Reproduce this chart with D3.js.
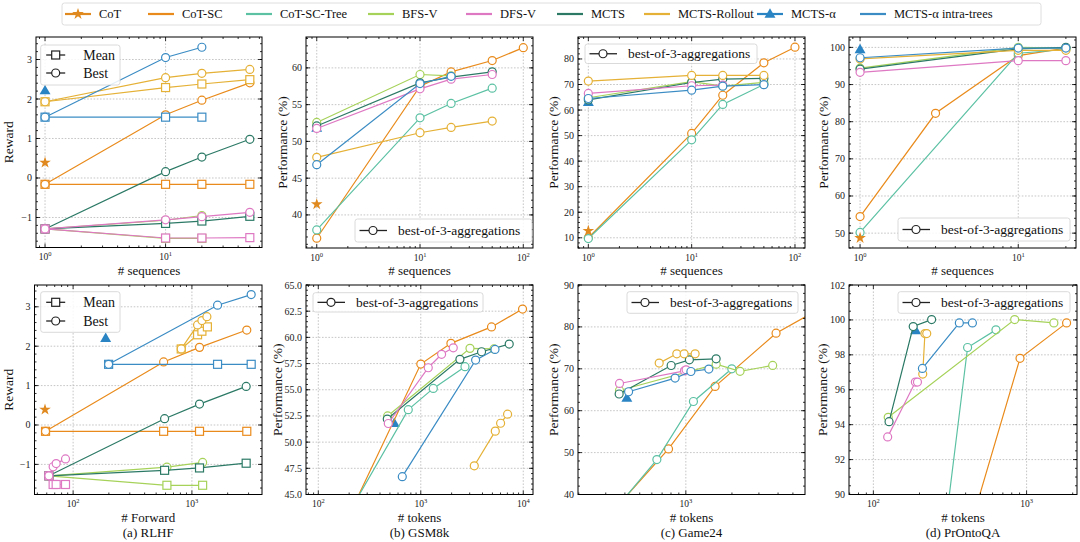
<!DOCTYPE html>
<html><head><meta charset="utf-8">
<script src="https://cdn.jsdelivr.net/npm/d3@7"></script>
<style>body{margin:0;background:#fff}</style>
</head><body>
<script>
// ---------------- data ----------------
const methods = ["CoT","CoT-SC","CoT-SC-Tree","BFS-V","DFS-V","MCTS","MCTS-Rollout","MCTS-α","MCTS-α intra-trees"];
const methodColors = ["#e0891e","#e98b1c","#5cc1a3","#a6d25a","#de78c3","#2c7a66","#e5b136","#2a84c4","#3b8cc4"];

// (a) RLHF, reward vs # sequences
const rlhfSeqCoT = [[1,0.39]];
const rlhfSeqCoTSCBest = [[1,-0.16],[10,1.60],[20,1.97],[50,2.41]];
const rlhfSeqCoTSCMean = [[1,-0.16],[10,-0.16],[20,-0.16],[50,-0.16]];
const rlhfSeqBFSBest = [[1,-1.29],[10,-1.07],[20,-0.95]];
const rlhfSeqBFSMean = [[1,-1.29],[10,-1.53],[20,-1.53]];
const rlhfSeqDFSBest = [[1,-1.29],[10,-1.06],[20,-0.98],[50,-0.87]];
const rlhfSeqDFSMean = [[1,-1.29],[10,-1.52],[20,-1.52],[50,-1.51]];
const rlhfSeqMCTSBest = [[1,-1.29],[10,0.16],[20,0.53],[50,0.98]];
const rlhfSeqMCTSMean = [[1,-1.29],[10,-1.15],[20,-1.09],[50,-0.97]];
const rlhfSeqRollBest = [[1,1.93],[10,2.54],[20,2.65],[50,2.75]];
const rlhfSeqRollMean = [[1,1.93],[10,2.29],[20,2.38],[50,2.49]];
const rlhfSeqAlpha = [[1,2.21]];
const rlhfSeqIntraBest = [[1,1.54],[10,3.05],[20,3.31]];
const rlhfSeqIntraMean = [[1,1.54],[10,1.54],[20,1.54]];

// (a) RLHF, reward vs # forward
const rlhfFwdCoT = [[58,0.39]];
const rlhfFwdCoTSCBest = [[58.6,-0.16],[578,1.60],[1159,1.97],[2897,2.41]];
const rlhfFwdCoTSCMean = [[58.6,-0.16],[578,-0.16],[1159,-0.16],[2897,-0.16]];
const rlhfFwdBFSBest = [[62.5,-1.29],[616,-1.07],[1231,-0.95]];
const rlhfFwdBFSMean = [[62.5,-1.29],[616,-1.53],[1231,-1.53]];
const rlhfFwdDFSBest = [[62.5,-1.29],[67.9,-1.06],[72,-0.98],[86.3,-0.86]];
const rlhfFwdDFSMean = [[62.5,-1.29],[67.9,-1.51],[72,-1.51],[86.3,-1.51]];
const rlhfFwdMCTSBest = [[62.5,-1.29],[589,0.16],[1159,0.53],[2862,0.98]];
const rlhfFwdMCTSMean = [[62.5,-1.29],[589,-1.15],[1159,-1.09],[2862,-0.97]];
const rlhfFwdRollBest = [[813,1.93],[1116,2.54],[1214,2.65],[1337,2.75]];
const rlhfFwdRollMean = [[813,1.93],[1116,2.29],[1214,2.38],[1350,2.49]];
const rlhfFwdAlpha = [[188,2.2]];
const rlhfFwdIntraBest = [[199,1.54],[1644,3.04],[3155,3.31]];
const rlhfFwdIntraMean = [[199,1.54],[1644,1.54],[3155,1.54]];

// (b) GSM8k vs # sequences
const gsmSeqCoT = [[1,41.45]];
const gsmSeqCoTSC = [[1,36.83],[10,57.5],[20,59.45],[50,61.0],[100,62.75]];
const gsmSeqTree = [[1,37.96],[10,53.2],[20,55.16],[50,57.24]];
const gsmSeqBFS = [[1,52.58],[10,59.1],[20,58.9]];
const gsmSeqDFS = [[1,51.76],[10,57.15],[20,58.46],[50,59.1]];
const gsmSeqMCTS = [[1,52.1],[10,57.96],[20,58.73],[50,59.46]];
const gsmSeqRoll = [[1,47.83],[10,51.18],[20,51.9],[50,52.76]];
const gsmSeqAlpha = [[1,51.8]];
const gsmSeqIntra = [[1,46.83],[10,57.87],[20,58.85]];

// (b) GSM8k vs # tokens
const gsmTokCoT = [[100,41.45]];
const gsmTokCoTSC = [[100,36.83],[1000,57.45],[1968,59.43],[4900,61.0],[9840,62.7]];
const gsmTokTree = [[97,37.96],[755,53.1],[1325,55.13],[2699,57.2]];
const gsmTokBFS = [[475,52.5],[3020,58.95],[5180,58.9]];
const gsmTokDFS = [[482,51.78],[1183,57.1],[1596,58.38],[2075,59.0]];
const gsmTokMCTS = [[471,52.2],[2409,57.9],[3918,58.63],[7295,59.36]];
const gsmTokRoll = [[3327,47.74],[5333,51.05],[6010,51.8],[7030,52.67]];
const gsmTokAlpha = [[551,51.8]];
const gsmTokIntra = [[660,46.7],[3428,57.83],[5300,58.85]];

// (c) Game24 vs # sequences
const g24SeqCoT = [[1,12.7]];
const g24SeqCoTSC = [[1,10],[10,50.87],[20,65.8],[50,78.5],[100,84.6]];
const g24SeqTree = [[1,9.7],[10,48.33],[20,62.2],[50,70.0]];
const g24SeqBFS = [[1,64.83],[10,71.1],[20,69.4],[50,70.8]];
const g24SeqDFS = [[1,66.5],[10,69.52],[20,69.76]];
const g24SeqMCTS = [[1,63.98],[10,70.79],[20,72.14],[50,72.38]];
const g24SeqRoll = [[1,71.36],[10,73.57],[20,73.57],[50,73.57]];
const g24SeqAlpha = [[1,63.0]];
const g24SeqIntra = [[1,64.52],[10,67.79],[20,69.36],[50,69.93]];

// (c) Game24 vs # tokens
const g24TokCoT = [[77,12.7]];
const g24TokCoTSC = [[77,10],[771,50.87],[1553,65.8],[3882,78.5],[7700,84.6]];
const g24TokTree = [[84,9.7],[647,48.33],[1121,62.2],[1995,70.0]];
const g24TokBFS = [[369,64.83],[1578,71.1],[2259,69.4],[3690,70.8]];
const g24TokDFS = [[369,66.5],[980,69.52],[1004,69.76]];
const g24TokMCTS = [[367,63.98],[802,70.79],[1055,72.14],[1577,72.38]];
const g24TokRoll = [[670,71.36],[873,73.57],[975,73.57],[1150,73.57]];
const g24TokAlpha = [[412,63.0]];
const g24TokIntra = [[423,64.52],[851,67.79],[1079,69.36],[1413,69.93]];

// (d) PrOntoQA vs # sequences
const proSeqCoT = [[1,48.7]];
const proSeqCoTSC = [[1,54.46],[3,82.26],[10,97.8],[20,99.83]];
const proSeqTree = [[1,50.2],[10,98.42],[20,99.43]];
const proSeqBFS = [[1,94.42],[10,100.02],[20,99.83]];
const proSeqDFS = [[1,93.3],[10,96.44],[20,96.44]];
const proSeqMCTS = [[1,94.17],[10,99.62],[20,100.02]];
const proSeqRoll = [[1,96.9],[10,99.22],[20,99.22]];
const proSeqAlpha = [[1,99.39]];
const proSeqIntra = [[1,97.22],[10,99.83],[20,99.83]];

// (d) PrOntoQA vs # tokens
const proTokCoT = [[90,48.7]];
const proTokCoTSC = [[90,54.46],[272,82.26],[906,97.8],[1824,99.83]];
const proTokTree = [[86,50.2],[412,98.42],[631,99.43]];
const proTokBFS = [[125,94.42],[836,100.02],[1507,99.83]];
const proTokDFS = [[124,93.3],[188,96.44],[194,96.44]];
const proTokMCTS = [[126.6,94.17],[182,99.62],[240,100.02]];
const proTokRoll = [[210,96.9],[217,99.22],[223,99.22]];
const proTokAlpha = [[189,99.39]];
const proTokIntra = [[209,97.22],[364,99.83],[443,99.83]];

// tick values
const rewardTicks = [-1,0,1,2,3];
const gsmSeqTicks = [40,45,50,55,60];
const gsmTokTicks = [45,47.5,50,52.5,55,57.5,60,62.5,65];
const g24SeqTicks = [10,20,30,40,50,60,70,80];
const g24TokTicks = [40,50,60,70,80,90];
const proSeqTicks = [50,60,70,80,90,100];
const proTokTicks = [90,92,94,96,98,100,102];

// ---------------- drawing ----------------
const FONT = "'Liberation Serif','DejaVu Serif',serif";
const svg = d3.select("body").append("svg").attr("width",1080).attr("height",542)
  .style("background","#fff").attr("font-family",FONT);

const S = (m,d,mk)=>({m,d,mk});
function stdSeries(cot,sc,tree,bfs,dfs,mcts,roll,alpha,intra){
  return [S(7,alpha,"^"),S(1,sc,"o"),S(2,tree,"o"),S(3,bfs,"o"),S(5,mcts,"o"),S(4,dfs,"o"),S(6,roll,"o"),S(8,intra,"o"),S(0,cot,"*")];
}

const panels = [
  {r:[36,262,37,247.5], xd:[-0.075,1.8], yd:[-1.76,3.57], yt:rewardTicks, ym:0.2, fmt:d=>d<0?"−"+(-d):d,
   xl:"# sequences", yl:"Reward", ylx:8, leg:"mb", lb:[40.7,45,120,85], ly:[55,73],
   series:[S(7,rlhfSeqAlpha,"^"),S(1,rlhfSeqCoTSCMean,"s"),S(1,rlhfSeqCoTSCBest,"o"),S(3,rlhfSeqBFSMean,"s"),S(3,rlhfSeqBFSBest,"o"),
     S(5,rlhfSeqMCTSMean,"s"),S(5,rlhfSeqMCTSBest,"o"),S(4,rlhfSeqDFSMean,"s"),S(4,rlhfSeqDFSBest,"o"),
     S(6,rlhfSeqRollMean,"s"),S(6,rlhfSeqRollBest,"o"),S(8,rlhfSeqIntraMean,"s"),S(8,rlhfSeqIntraBest,"o"),S(0,rlhfSeqCoT,"*")]},
  {r:[306,533,37,248], xd:[-0.104,2.094], yd:[35.5,64.2], yt:gsmSeqTicks, ym:1, fmt:d=>d,
   xl:"# sequences", yl:"Performance (%)", ylx:282, leg:"b3", lb:[355,219,532,242],
   series:stdSeries(gsmSeqCoT,gsmSeqCoTSC,gsmSeqTree,gsmSeqBFS,gsmSeqDFS,gsmSeqMCTS,gsmSeqRoll,gsmSeqAlpha,gsmSeqIntra)},
  {r:[578,805,37,248], xd:[-0.1,2.097], yd:[6,88.6], yt:g24SeqTicks, ym:2, fmt:d=>d,
   xl:"# sequences", yl:"Performance (%)", ylx:553, leg:"b3", lb:[585,44,757,63.5],
   series:stdSeries(g24SeqCoT,g24SeqCoTSC,g24SeqTree,g24SeqBFS,g24SeqDFS,g24SeqMCTS,g24SeqRoll,g24SeqAlpha,g24SeqIntra)},
  {r:[849,1076,37,248], xd:[-0.07,1.365], yd:[46,102.8], yt:proSeqTicks, ym:2, fmt:d=>d,
   xl:"# sequences", yl:"Performance (%)", ylx:823, leg:"b3", lb:[898,218,1070,241],
   series:stdSeries(proSeqCoT,proSeqCoTSC,proSeqTree,proSeqBFS,proSeqDFS,proSeqMCTS,proSeqRoll,proSeqAlpha,proSeqIntra)},
  {r:[34.5,262,285,494.5], xd:[1.675,3.59], yd:[-1.764,3.553], yt:rewardTicks, ym:0.2, fmt:d=>d<0?"−"+(-d):d,
   xl:"# Forward", yl:"Reward", ylx:8, sub:"(a) RLHF", leg:"mb", lb:[40.7,291.7,120,332.3], ly:[302.3,321],
   series:[S(7,rlhfFwdAlpha,"^"),S(1,rlhfFwdCoTSCMean,"s"),S(1,rlhfFwdCoTSCBest,"o"),S(3,rlhfFwdBFSMean,"s"),S(3,rlhfFwdBFSBest,"o"),
     S(5,rlhfFwdMCTSMean,"s"),S(5,rlhfFwdMCTSBest,"o"),S(4,rlhfFwdDFSMean,"s"),S(4,rlhfFwdDFSBest,"o"),
     S(6,rlhfFwdRollMean,"s"),S(6,rlhfFwdRollBest,"o"),S(8,rlhfFwdIntraMean,"s"),S(8,rlhfFwdIntraBest,"o"),S(0,rlhfFwdCoT,"*")]},
  {r:[306,533,285,494.5], xd:[1.88,4.095], yd:[45,65], yt:gsmTokTicks, ym:0.5, fmt:d=>d.toFixed(1),
   xl:"# tokens", yl:"Performance (%)", ylx:277, sub:"(b) GSM8k", leg:"b3", lb:[313,292.7,483,312],
   series:stdSeries(gsmTokCoT,gsmTokCoTSC,gsmTokTree,gsmTokBFS,gsmTokDFS,gsmTokMCTS,gsmTokRoll,gsmTokAlpha,gsmTokIntra)},
  {r:[578,805,285,494.5], xd:[2.296,3.778], yd:[40,90], yt:g24TokTicks, ym:2, fmt:d=>d,
   xl:"# tokens", yl:"Performance (%)", ylx:553, sub:"(c) Game24", leg:"b3", lb:[627,291.7,798,313.3],
   series:stdSeries(g24TokCoT,g24TokCoTSC,g24TokTree,g24TokBFS,g24TokDFS,g24TokMCTS,g24TokRoll,g24TokAlpha,g24TokIntra)},
  {r:[849,1077,285,494.5], xd:[1.841,3.329], yd:[90,102], yt:proTokTicks, ym:0.5, fmt:d=>d,
   xl:"# tokens", yl:"Performance (%)", ylx:822, sub:"(d) PrOntoQA", leg:"b3", lb:[898,291.7,1070,313.3],
   series:stdSeries(proTokCoT,proTokCoTSC,proTokTree,proTokBFS,proTokDFS,proTokMCTS,proTokRoll,proTokAlpha,proTokIntra)}
];

const GRID = "#b8b8b8";
function marker(g, mk, x, y, color){
  if(mk==="o"){
    g.append("circle").attr("cx",x).attr("cy",y).attr("r",4).attr("fill","#fff").attr("stroke",color).attr("stroke-width",1.2);
  } else if(mk==="s"){
    g.append("rect").attr("x",x-4).attr("y",y-4).attr("width",8).attr("height",8).attr("fill","#fff").attr("stroke",color).attr("stroke-width",1.2);
  } else if(mk==="*"){
    g.append("path").attr("d",d3.symbol(d3.symbolStar,42)()).attr("transform",`translate(${x},${y})`).attr("fill",color);
  } else if(mk==="^"){
    g.append("path").attr("d",d3.symbol(d3.symbolTriangle,52)()).attr("transform",`translate(${x},${y+0.5})`).attr("fill",color);
  }
}

panels.forEach((p,i)=>{
  const [x0,x1,y0,y1] = p.r;
  const x = d3.scaleLog().domain([Math.pow(10,p.xd[0]),Math.pow(10,p.xd[1])]).range([x0,x1]);
  const y = d3.scaleLinear().domain(p.yd).range([y1,y0]);
  const g = svg.append("g");
  const cid = "clip"+i;
  svg.append("clipPath").attr("id",cid).append("rect").attr("x",x0).attr("y",y0).attr("width",x1-x0).attr("height",y1-y0);

  const majX = [], minX = [];
  for(let e=Math.floor(p.xd[0]); e<=Math.ceil(p.xd[1]); e++){
    if(e>=p.xd[0] && e<=p.xd[1]) majX.push(e);
    for(let k=2;k<=9;k++){ const v=e+Math.log10(k); if(v>p.xd[0]&&v<p.xd[1]) minX.push(v); }
  }
  const minY = [];
  for(let v=Math.ceil(p.yd[0]/p.ym)*p.ym; v<=p.yd[1]+1e-9; v+=p.ym){ minY.push(+v.toFixed(4)); }

  // grid
  const gg = g.append("g").attr("stroke",GRID).attr("stroke-width",0.8).attr("stroke-dasharray","1.6,1.6");
  majX.forEach(e=>{ const px=x(Math.pow(10,e)); gg.append("line").attr("x1",px).attr("x2",px).attr("y1",y0).attr("y2",y1); });
  p.yt.forEach(v=>{ const py=y(v); if(py>y0+0.5&&py<y1-0.5) gg.append("line").attr("x1",x0).attr("x2",x1).attr("y1",py).attr("y2",py); });

  // data
  const dg = g.append("g").attr("clip-path",`url(#${cid})`);
  const line = d3.line().x(d=>x(d[0])).y(d=>y(d[1]));
  p.series.forEach(s=>{
    const col = methodColors[s.m];
    if(s.d.length>1) dg.append("path").attr("d",line(s.d)).attr("fill","none").attr("stroke",col).attr("stroke-width",1.2);
    s.d.forEach(d=>marker(dg,s.mk,x(d[0]),y(d[1]),col));
  });

  // frame
  g.append("rect").attr("x",x0).attr("y",y0).attr("width",x1-x0).attr("height",y1-y0).attr("fill","none").attr("stroke","#000").attr("stroke-width",1);
  // ticks
  const tg = g.append("g").attr("stroke","#000").attr("stroke-width",0.8);
  majX.forEach(e=>{ const px=x(Math.pow(10,e));
    tg.append("line").attr("x1",px).attr("x2",px).attr("y1",y1).attr("y2",y1-4);
    tg.append("line").attr("x1",px).attr("x2",px).attr("y1",y0).attr("y2",y0+4); });
  minX.forEach(e=>{ const px=x(Math.pow(10,e));
    tg.append("line").attr("x1",px).attr("x2",px).attr("y1",y1).attr("y2",y1-2);
    tg.append("line").attr("x1",px).attr("x2",px).attr("y1",y0).attr("y2",y0+2); });
  minY.forEach(v=>{ const py=y(v);
    tg.append("line").attr("x1",x0).attr("x2",x0+2).attr("y1",py).attr("y2",py);
    tg.append("line").attr("x1",x1).attr("x2",x1-2).attr("y1",py).attr("y2",py); });
  p.yt.forEach(v=>{ const py=y(v);
    tg.append("line").attr("x1",x0).attr("x2",x0+4).attr("y1",py).attr("y2",py);
    tg.append("line").attr("x1",x1).attr("x2",x1-4).attr("y1",py).attr("y2",py); });

  // tick labels
  p.yt.forEach(v=>{
    g.append("text").attr("x",x0-4).attr("y",y(v)+3.5).attr("text-anchor","end").attr("font-size",10).attr("fill","#222").text(p.fmt(v));
  });
  majX.forEach(e=>{
    const t = g.append("text").attr("x",x(Math.pow(10,e))).attr("y",y1+12.5).attr("text-anchor","middle").attr("font-size",9.5).attr("fill","#222");
    t.append("tspan").text("10");
    t.append("tspan").attr("dy",-4).attr("font-size",6.5).text(e);
  });

  // axis labels
  g.append("text").attr("x",(x0+x1)/2).attr("y",y1+27).attr("text-anchor","middle").attr("font-size",13).attr("fill","#111").text(p.xl);
  g.append("text").attr("transform",`translate(${p.ylx+4.5},${(y0+y1)/2}) rotate(-90)`).attr("text-anchor","middle").attr("font-size",13.5).attr("fill","#111").text(p.yl);
  if(p.sub) g.append("text").attr("x",(x0+x1)/2).attr("y",y1+42.5).attr("text-anchor","middle").attr("font-size",13).attr("fill","#111").text(p.sub);

  // in-panel legend
  const [bx0,by0,bx1,by1] = p.lb;
  const lg = g.append("g");
  lg.append("rect").attr("x",bx0).attr("y",by0).attr("width",bx1-bx0).attr("height",by1-by0).attr("rx",2.5)
    .attr("fill","#fff").attr("fill-opacity",0.85).attr("stroke","#d0d0d0").attr("stroke-width",0.8);
  const K = "#222";
  if(p.leg==="mb"){
    [["Mean","s"],["Best","o"]].forEach((it,k)=>{
      const ly = p.ly[k];
      lg.append("line").attr("x1",bx0+5.5).attr("x2",bx0+24.5).attr("y1",ly).attr("y2",ly).attr("stroke",K).attr("stroke-width",1.3);
      marker(lg,it[1],bx0+15,ly,K);
      lg.append("text").attr("x",bx0+42.5).attr("y",ly+4.8).attr("font-size",14).attr("fill","#111").text(it[0]);
    });
  } else {
    const ly = (by0+by1)/2;
    lg.append("line").attr("x1",bx0+4.5).attr("x2",bx0+32).attr("y1",ly).attr("y2",ly).attr("stroke",K).attr("stroke-width",1.3);
    marker(lg,"o",bx0+18,ly,K);
    lg.append("text").attr("x",bx0+43).attr("y",ly+4.6).attr("font-size",13.5).attr("fill","#111").text("best-of-3-aggregations");
  }
});

// top legend
const legX = [65,148,246,368,466,557,644,757,860];
const tl = svg.append("g");
tl.append("rect").attr("x",62).attr("y",3).attr("width",979).attr("height",22).attr("rx",2.5)
  .attr("fill","#fff").attr("stroke","#d6d6d6").attr("stroke-width",0.8);
methods.forEach((m,i)=>{
  const lx = legX[i], ly = 14;
  tl.append("line").attr("x1",lx).attr("x2",lx+26).attr("y1",ly).attr("y2",ly).attr("stroke",methodColors[i]).attr("stroke-width",2.2);
  if(i===0) marker(tl,"*",lx+13,ly,methodColors[i]);
  if(i===7) marker(tl,"^",lx+13,ly,methodColors[i]);
  tl.append("text").attr("x",lx+34).attr("y",ly+4.3).attr("font-size",12.5).attr("fill","#111").text(m);
});
</script>
</body></html>
